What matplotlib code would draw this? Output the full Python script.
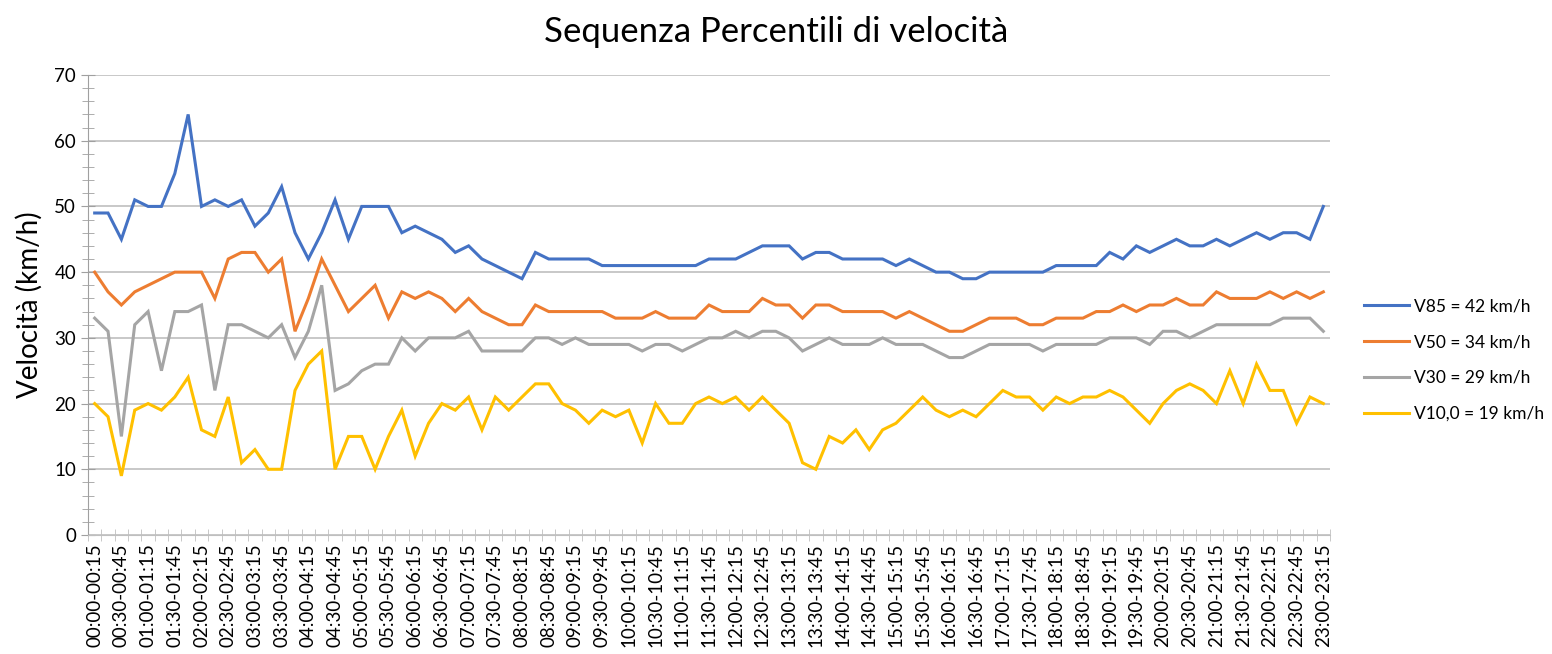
import matplotlib
matplotlib.use("Agg")
import matplotlib.pyplot as plt
from matplotlib.ticker import MultipleLocator

# fasce orarie da 15 minuti: 00:00-00:15 ... 23:00-23:15
fasce = []
for k in range(93):
    a = k * 15
    b = a + 15
    fasce.append(f"{a // 60:02d}:{a % 60:02d}-{b // 60:02d}:{b % 60:02d}")

v85 = [49, 49, 45, 51, 50, 50, 55, 64, 50, 51, 50, 51, 47, 49, 53, 46, 42, 46, 51, 45, 50, 50, 50, 46,
       47, 46, 45, 43, 44, 42, 41, 40, 39, 43, 42, 42, 42, 42, 41, 41, 41, 41, 41, 41, 41, 41, 42, 42,
       42, 43, 44, 44, 44, 42, 43, 43, 42, 42, 42, 42, 41, 42, 41, 40, 40, 39, 39, 40, 40, 40, 40, 40,
       41, 41, 41, 41, 43, 42, 44, 43, 44, 45, 44, 44, 45, 44, 45, 46, 45, 46, 46, 45, 50]
v50 = [40, 37, 35, 37, 38, 39, 40, 40, 40, 36, 42, 43, 43, 40, 42, 31, 36, 42, 38, 34, 36, 38, 33, 37,
       36, 37, 36, 34, 36, 34, 33, 32, 32, 35, 34, 34, 34, 34, 34, 33, 33, 33, 34, 33, 33, 33, 35, 34,
       34, 34, 36, 35, 35, 33, 35, 35, 34, 34, 34, 34, 33, 34, 33, 32, 31, 31, 32, 33, 33, 33, 32, 32,
       33, 33, 33, 34, 34, 35, 34, 35, 35, 36, 35, 35, 37, 36, 36, 36, 37, 36, 37, 36, 37]
v30 = [33, 31, 15, 32, 34, 25, 34, 34, 35, 22, 32, 32, 31, 30, 32, 27, 31, 38, 22, 23, 25, 26, 26, 30,
       28, 30, 30, 30, 31, 28, 28, 28, 28, 30, 30, 29, 30, 29, 29, 29, 29, 28, 29, 29, 28, 29, 30, 30,
       31, 30, 31, 31, 30, 28, 29, 30, 29, 29, 29, 30, 29, 29, 29, 28, 27, 27, 28, 29, 29, 29, 29, 28,
       29, 29, 29, 29, 30, 30, 30, 29, 31, 31, 30, 31, 32, 32, 32, 32, 32, 33, 33, 33, 31]
v10 = [20, 18, 9, 19, 20, 19, 21, 24, 16, 15, 21, 11, 13, 10, 10, 22, 26, 28, 10, 15, 15, 10, 15, 19,
       12, 17, 20, 19, 21, 16, 21, 19, 21, 23, 23, 20, 19, 17, 19, 18, 19, 14, 20, 17, 17, 20, 21, 20,
       21, 19, 21, 19, 17, 11, 10, 15, 14, 16, 13, 16, 17, 19, 21, 19, 18, 19, 18, 20, 22, 21, 21, 19,
       21, 20, 21, 21, 22, 21, 19, 17, 20, 22, 23, 22, 20, 25, 20, 26, 22, 22, 17, 21, 20]

serie = [
    ("V85 = 42 km/h", v85, "#4472C4"),
    ("V50 = 34 km/h", v50, "#ED7D31"),
    ("V30 = 29 km/h", v30, "#A5A5A5"),
    ("V10,0 = 19 km/h", v10, "#FFC000"),
]

plt.rcParams["font.family"] = ["Lato", "DejaVu Sans"]

fig = plt.figure(figsize=(15.52, 6.54), dpi=100)
ax = fig.add_axes([88 / 1552, 1 - 535 / 654, (1330 - 88) / 1552, (535 - 75) / 654])

x = list(range(len(fasce)))
for nome, valori, colore in serie:
    ax.plot(x, valori, color=colore, lw=2.2, label=nome, solid_joinstyle="miter")

ax.set_xlim(-0.5, len(fasce) - 0.5)
ax.set_ylim(0, 70)
ax.yaxis.set_major_locator(MultipleLocator(10))
ax.yaxis.set_minor_locator(MultipleLocator(2))
ax.grid(axis="y", color="#bfbfbf", lw=1.2)
ax.set_axisbelow(True)

ax.set_xticks(x[::2])
ax.set_xticklabels(fasce[::2], rotation=90, fontsize=13.5)
ax.set_xticks([i - 0.5 for i in range(len(fasce) + 1)], minor=True)
ax.tick_params(axis="x", which="major", length=0, pad=6)
ax.tick_params(axis="x", which="minor", length=8, direction="inout", color="#bfbfbf")
ax.tick_params(axis="y", which="both", direction="inout", color="#a0a0a0", labelsize=13.5)
ax.tick_params(axis="y", which="major", length=10)
ax.tick_params(axis="y", which="minor", length=8)

for lato in ["top", "right"]:
    ax.spines[lato].set_visible(False)
ax.spines["left"].set_color("#a0a0a0")
ax.spines["bottom"].set_color("#bfbfbf")

ax.set_ylabel("Velocità (km/h)", fontsize=20, labelpad=8)
fig.suptitle("Sequenza Percentili di velocità", fontsize=25, y=0.975)

fig.legend(loc="center left", bbox_to_anchor=(1348 / 1552, 1 - 360 / 654), frameon=False,
           fontsize=12.5, handlelength=2.6, labelspacing=1.15, handletextpad=0.3)

plt.savefig("out.png", dpi=100)
